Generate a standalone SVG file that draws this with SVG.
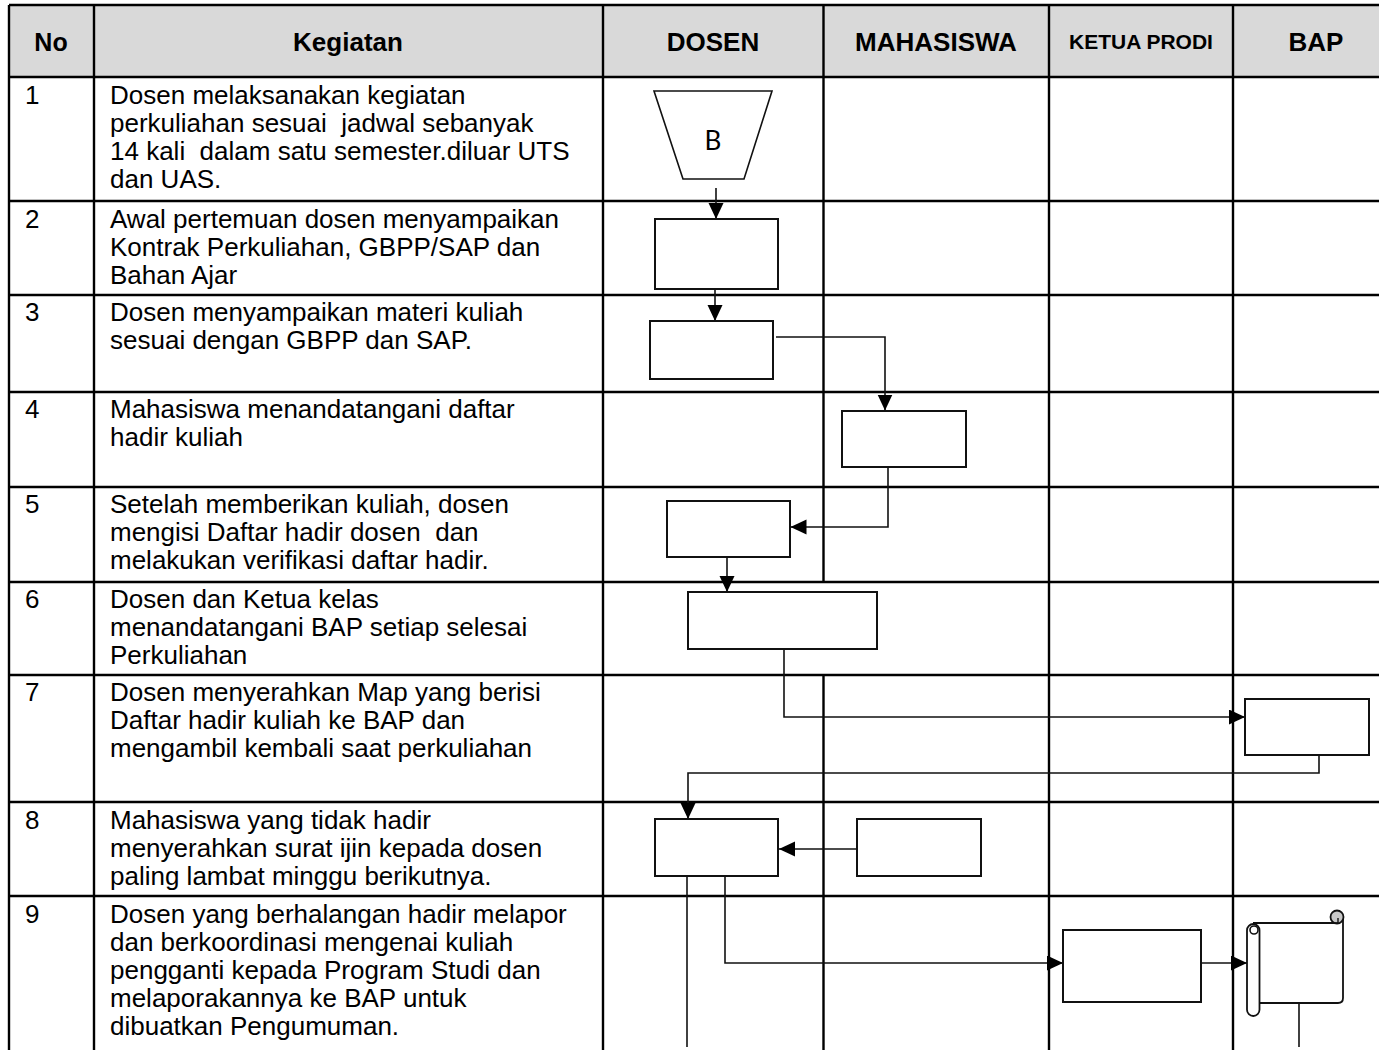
<svg xmlns="http://www.w3.org/2000/svg" width="1379" height="1050" viewBox="0 0 1379 1050">
<style>
.grid{stroke:#000;stroke-width:2.4;fill:none}
.box{fill:#fff;stroke:#111;stroke-width:2}
.con{fill:none;stroke:#111;stroke-width:1.6}
.hd{font-family:"Liberation Sans",Arial,sans-serif;font-weight:bold;font-size:26px;fill:#000;text-anchor:middle}
.tx{font-family:"Liberation Sans",Arial,sans-serif;font-size:26px;fill:#000;white-space:pre}
</style>
<defs>
<marker id="ah" markerUnits="userSpaceOnUse" markerWidth="17" markerHeight="17" refX="16" refY="7.5" orient="auto">
<path d="M0,0 L16,7.5 L0,15 z" fill="#000"/>
</marker>
</defs>
<rect x="0" y="0" width="1379" height="1050" fill="#fff"/>
<g id="header">
<rect x="9" y="5" width="1380" height="72" fill="#d9d9d9"/>
<text class="hd" x="51" y="51" style="font-size:25px">No</text>
<text class="hd" x="348" y="51">Kegiatan</text>
<text class="hd" x="713" y="51">DOSEN</text>
<text class="hd" x="936" y="51">MAHASISWA</text>
<text class="hd" x="1141" y="49" style="font-size:21px">KETUA PRODI</text>
<text class="hd" x="1316" y="51">BAP</text>
</g>
<g id="table">
<path class="grid" d="M9,5 H1390 M9,77 H1390 M9,201 H1390 M9,295 H1390 M9,392 H1390 M9,487 H1390 M9,582 H1390 M9,675 H1390 M9,802 H1390 M9,896 H1390"/>
<path class="grid" d="M9,5 V1050 M94,5 V1050 M603,5 V1050 M823.5,5 V582 M823.5,675 V1050 M1049,5 V1050 M1233,5 V1050"/>
</g>
<g id="rows">
<text class="tx" x="25" y="104">1</text>
<text class="tx" x="110" y="104">Dosen melaksanakan kegiatan</text>
<text class="tx" x="110" y="132">perkuliahan sesuai  jadwal sebanyak</text>
<text class="tx" x="110" y="160">14 kali  dalam satu semester.diluar UTS</text>
<text class="tx" x="110" y="188">dan UAS.</text>
<text class="tx" x="25" y="228">2</text>
<text class="tx" x="110" y="228">Awal pertemuan dosen menyampaikan</text>
<text class="tx" x="110" y="256">Kontrak Perkuliahan, GBPP/SAP dan</text>
<text class="tx" x="110" y="284">Bahan Ajar</text>
<text class="tx" x="25" y="321">3</text>
<text class="tx" x="110" y="321">Dosen menyampaikan materi kuliah</text>
<text class="tx" x="110" y="349">sesuai dengan GBPP dan SAP.</text>
<text class="tx" x="25" y="418">4</text>
<text class="tx" x="110" y="418">Mahasiswa menandatangani daftar</text>
<text class="tx" x="110" y="446">hadir kuliah</text>
<text class="tx" x="25" y="513">5</text>
<text class="tx" x="110" y="513">Setelah memberikan kuliah, dosen</text>
<text class="tx" x="110" y="541">mengisi Daftar hadir dosen  dan</text>
<text class="tx" x="110" y="569">melakukan verifikasi daftar hadir.</text>
<text class="tx" x="25" y="608">6</text>
<text class="tx" x="110" y="608">Dosen dan Ketua kelas</text>
<text class="tx" x="110" y="636">menandatangani BAP setiap selesai</text>
<text class="tx" x="110" y="664">Perkuliahan</text>
<text class="tx" x="25" y="701">7</text>
<text class="tx" x="110" y="701">Dosen menyerahkan Map yang berisi</text>
<text class="tx" x="110" y="729">Daftar hadir kuliah ke BAP dan</text>
<text class="tx" x="110" y="757">mengambil kembali saat perkuliahan</text>
<text class="tx" x="25" y="829">8</text>
<text class="tx" x="110" y="829">Mahasiswa yang tidak hadir</text>
<text class="tx" x="110" y="857">menyerahkan surat ijin kepada dosen</text>
<text class="tx" x="110" y="885">paling lambat minggu berikutnya.</text>
<text class="tx" x="25" y="923">9</text>
<text class="tx" x="110" y="923">Dosen yang berhalangan hadir melapor</text>
<text class="tx" x="110" y="951">dan berkoordinasi mengenai kuliah</text>
<text class="tx" x="110" y="979">pengganti kepada Program Studi dan</text>
<text class="tx" x="110" y="1007">melaporakannya ke BAP untuk</text>
<text class="tx" x="110" y="1035">dibuatkan Pengumuman.</text>
</g>
<g id="connectors">
<path class="con" d="M716,188 V219" marker-end="url(#ah)"/>
<path class="con" d="M715,289 V321" marker-end="url(#ah)"/>
<path class="con" d="M776,337 H885 V410.5" marker-end="url(#ah)"/>
<path class="con" d="M888,467 V527 H790.5" marker-end="url(#ah)"/>
<path class="con" d="M727,557 V592" marker-end="url(#ah)"/>
<path class="con" d="M784,649 V717 H1245" marker-end="url(#ah)"/>
<path class="con" d="M1319,755 V773 H688 V819" marker-end="url(#ah)"/>
<path class="con" d="M857,849 H779" marker-end="url(#ah)"/>
<path class="con" d="M687,876 V1047"/>
<path class="con" d="M725,876 V963 H1063" marker-end="url(#ah)"/>
<path class="con" d="M1201,963 H1247" marker-end="url(#ah)"/>
<path class="con" d="M1299,1001 V1047"/>
</g>
<g id="n1">
<polygon class="box" points="654,91 772,91 744,179 683,179" style="stroke-width:1.6"/>
<text x="713" y="150" style="font-family:Lato,'Open Sans',sans-serif;font-size:26px;text-anchor:middle">B</text>
</g>
<g id="n2"><rect class="box" x="655" y="219" width="123" height="70"/></g>
<g id="n3"><rect class="box" x="650" y="321" width="123" height="58"/></g>
<g id="n4"><rect class="box" x="842" y="411" width="124" height="56"/></g>
<g id="n5"><rect class="box" x="667" y="501" width="123" height="56"/></g>
<g id="n6"><rect class="box" x="688" y="592" width="189" height="57"/></g>
<g id="n7"><rect class="box" x="1245" y="699" width="124" height="56"/></g>
<g id="n8a"><rect class="box" x="655" y="819" width="123" height="57"/></g>
<g id="n8b"><rect class="box" x="857" y="819" width="124" height="57"/></g>
<g id="n9a"><rect class="box" x="1063" y="930" width="138" height="72"/></g>
<g id="n9b">
<path d="M1253,923 H1337 L1343,917 V998 Q1343,1003 1338,1003 H1259 V924 Z" fill="#fff" stroke="none"/>
<path class="con" d="M1253,923 H1337 M1343,917 V998 Q1343,1003 1338,1003 H1259" style="stroke-width:1.8"/>
<circle cx="1337" cy="917" r="6.5" fill="#c8c8c8" stroke="#111" stroke-width="1.8"/>
<path d="M1332,923 H1338 V918" fill="none" stroke="#111" stroke-width="1.4"/>
<rect x="1247" y="924" width="12.5" height="92" rx="6.2" fill="#fff" stroke="#111" stroke-width="1.8"/>
<circle cx="1254" cy="930" r="4" fill="#fff" stroke="#111" stroke-width="1.6"/>
</g>
</svg>
